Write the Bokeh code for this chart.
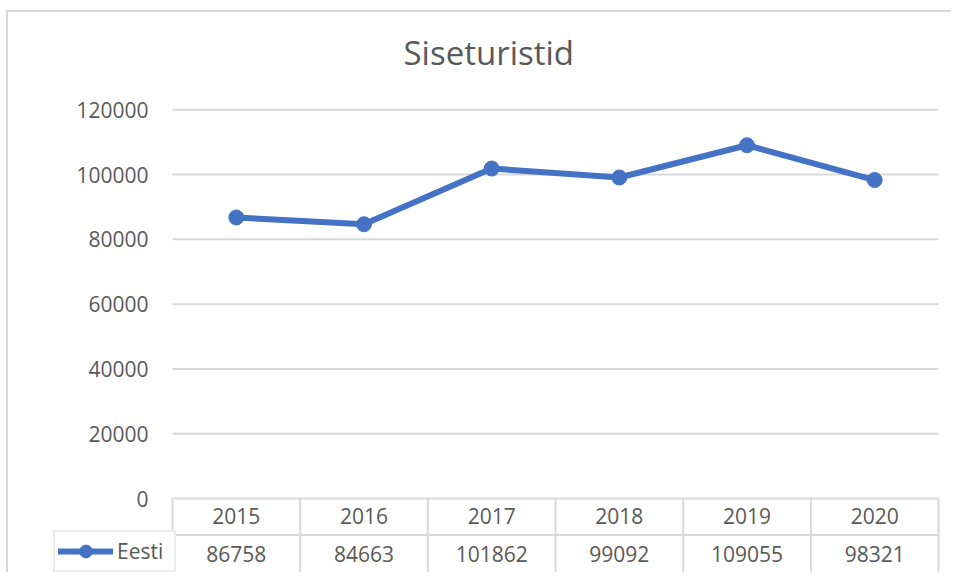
from bokeh.plotting import figure
from bokeh.models import Legend, LegendItem, FixedTicker, ColumnDataSource, NumeralTickFormatter
from bokeh.core.properties import value
from bokeh.embed import file_html
from bokeh.resources import INLINE

# ---- data ----
title_text = "Siseturistid"
series_name = "Eesti"
years = ["2015", "2016", "2017", "2018", "2019", "2020"]
values = [86758, 84663, 101862, 99092, 109055, 98321]
y_ticks = [0, 20000, 40000, 60000, 80000, 100000, 120000]

# ---- styling / layout (canvas px) ----
FONT = "Open Sans"
TEXT_COLOR = "#595959"
GRID_COLOR = "#d9d9d9"
LINE_COLOR = "#4472C4"

W, H = 945, 562
FRAME_L, FRAME_R = 42, 932
COL_L, COL_R = 164, 930
FRAME_TOP = 77
Y0_PX, YMAX_PX = 486, 97.3
ROW1_PX, DIV_PX, ROW2_PX, BOT_PX = 17.5, 36.5, 55.5, 74.5   # px below the y=0 line
LEG_L, LEG_B = 45, 560

n = len(years)
upp = (y_ticks[-1] - y_ticks[0]) / (Y0_PX - YMAX_PX)   # data units per px
ppx = (COL_R - COL_L) / n
x_start = -0.5 - (COL_L - FRAME_L) / ppx
x_end = n - 0.5 + (FRAME_R - COL_R) / ppx
y_start = -(H - Y0_PX) * upp
y_end = (Y0_PX - FRAME_TOP) * upp

p = figure(width=W, height=H, x_range=(x_start, x_end), y_range=(y_start, y_end),
           min_border_left=FRAME_L, min_border_right=W - FRAME_R,
           min_border_top=FRAME_TOP, min_border_bottom=0,
           output_backend="svg", toolbar_location=None, title=title_text)
p.styles = {"margin-left": "6px", "margin-top": "10px",
            "border-top": "2px solid #d9d9d9", "border-left": "2px solid #d9d9d9"}

p.title.align = "left"
p.title.offset = 353
p.title.standoff = 30
p.title.text_font = FONT
p.title.text_font_size = "33px"
p.title.text_font_style = "normal"
p.title.text_color = TEXT_COLOR

p.outline_line_color = None
p.xaxis.visible = False
p.xgrid.visible = False
p.ygrid.visible = False

ax = p.yaxis[0]
ax.ticker = FixedTicker(ticks=y_ticks)
ax.formatter = NumeralTickFormatter(format="0")
ax.axis_line_color = None
ax.major_tick_line_color = None
ax.minor_tick_line_color = None
ax.major_tick_out = 0
ax.major_tick_in = 0
ax.major_label_standoff = -98
ax.major_label_text_font = FONT
ax.major_label_text_font_size = "21px"
ax.major_label_text_color = TEXT_COLOR

# ---- gridlines and table grid ----
p.segment(x0=[-0.5] * len(y_ticks), y0=y_ticks, x1=[n - 0.5] * len(y_ticks), y1=y_ticks,
          line_color=GRID_COLOR, line_width=2)
y_div = -DIV_PX * upp
y_bot = -BOT_PX * upp
xs_edges = [i - 0.5 for i in range(n + 1)]
p.segment(x0=xs_edges, y0=[0] * (n + 1), x1=xs_edges, y1=[y_bot] * (n + 1),
          line_color=GRID_COLOR, line_width=2)
p.segment(x0=[-0.5, -0.5], y0=[y_div, y_bot], x1=[n - 0.5, n - 0.5], y1=[y_div, y_bot],
          line_color=GRID_COLOR, line_width=2)

xs = list(range(n))
tsrc = ColumnDataSource(dict(x=xs, yr=years, val=[str(v) for v in values],
                             y1=[-ROW1_PX * upp] * n, y2=[-ROW2_PX * upp] * n))
p.text(x="x", y="y1", text="yr", source=tsrc, text_align="center", text_baseline="middle",
       text_font=value(FONT), text_font_size="21px", text_color=TEXT_COLOR)
p.text(x="x", y="y2", text="val", source=tsrc, text_align="center", text_baseline="middle",
       text_font=value(FONT), text_font_size="21px", text_color=TEXT_COLOR)

# ---- series ----
src = ColumnDataSource(dict(x=xs, y=values))
r_line = p.line("x", "y", source=src, line_color=LINE_COLOR, line_width=6,
                line_cap="round", line_join="round")
r_pt = p.scatter("x", "y", source=src, size=15, fill_color=LINE_COLOR, line_color=LINE_COLOR)

legend = Legend(items=[LegendItem(label=series_name, renderers=[r_line, r_pt])])
legend.location = (LEG_L - FRAME_L, H - LEG_B)
legend.padding = 3
legend.margin = 0
legend.glyph_width = 55
legend.glyph_height = 32
legend.label_height = 32
legend.label_width = 54
legend.label_standoff = 4
legend.border_line_color = GRID_COLOR
legend.border_line_width = 2
legend.background_fill_color = "white"
legend.background_fill_alpha = 1
legend.label_text_font = FONT
legend.label_text_font_size = "21px"
legend.label_text_color = TEXT_COLOR
p.add_layout(legend)

open("out.html", "w").write(file_html(p, INLINE))
